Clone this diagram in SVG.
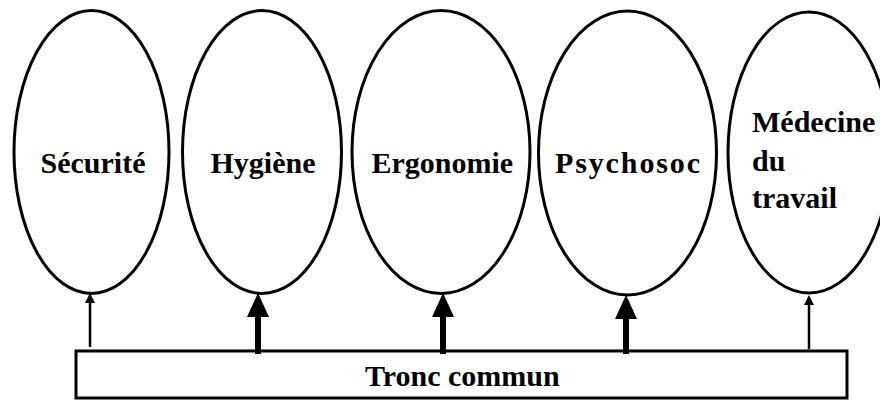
<svg xmlns="http://www.w3.org/2000/svg" width="880" height="400" viewBox="0 0 880 400">
<style>
.ell{fill:#fff;stroke:#000;stroke-width:3}
.lbl{font-family:"Liberation Serif","Times New Roman",serif;font-weight:bold;font-size:30px;fill:#000}
.thin{stroke:#000;stroke-width:2.5;fill:none}
.thick{stroke:#000;stroke-width:6;fill:none}
.head{fill:#000;stroke:none}
.box{fill:#fff;stroke:#000;stroke-width:3}
</style>
<rect width="880" height="400" fill="#fff"/>
<g id="securite">
<ellipse class="ell" cx="91.5" cy="152" rx="77.5" ry="141.5"/>
<text class="lbl" x="40.5" y="173">Sécurité</text>
</g>
<g id="hygiene">
<ellipse class="ell" cx="262" cy="152" rx="79.5" ry="141.5"/>
<text class="lbl" x="210.5" y="173">Hygiène</text>
</g>
<g id="ergonomie">
<ellipse class="ell" cx="441" cy="152" rx="89" ry="141.5"/>
<text class="lbl" x="371.5" y="173">Ergonomie</text>
</g>
<g id="psychosoc">
<ellipse class="ell" cx="627.5" cy="153" rx="89" ry="142"/>
<text class="lbl" x="555" y="173" textLength="145" lengthAdjust="spacing">Psychosoc</text>
</g>
<g id="medecine">
<ellipse class="ell" cx="809" cy="152.5" rx="81" ry="140.5"/>
<text class="lbl" x="752" y="132">Médecine</text>
<text class="lbl" x="752" y="171">du</text>
<text class="lbl" x="752" y="208">travail</text>
</g>
<g id="tronc">
<rect class="box" x="76" y="351" width="771" height="47"/>
<text class="lbl" x="365" y="386">Tronc commun</text>
</g>
<g id="connectors">
<line class="thin" x1="90" y1="347" x2="90" y2="301"/>
<polygon class="head" points="90,293 85,303 95,303"/>
<line class="thick" x1="258" y1="354" x2="258" y2="315"/>
<polygon class="head" points="258,293 247,317 269,317"/>
<line class="thick" x1="443" y1="354" x2="443" y2="315"/>
<polygon class="head" points="443,293 432,317 454,317"/>
<line class="thick" x1="626" y1="354" x2="626" y2="317"/>
<polygon class="head" points="626,295 615,319 637,319"/>
<line class="thin" x1="809" y1="349" x2="809" y2="303"/>
<polygon class="head" points="809,295 804,305 814,305"/>
</g>
</svg>
